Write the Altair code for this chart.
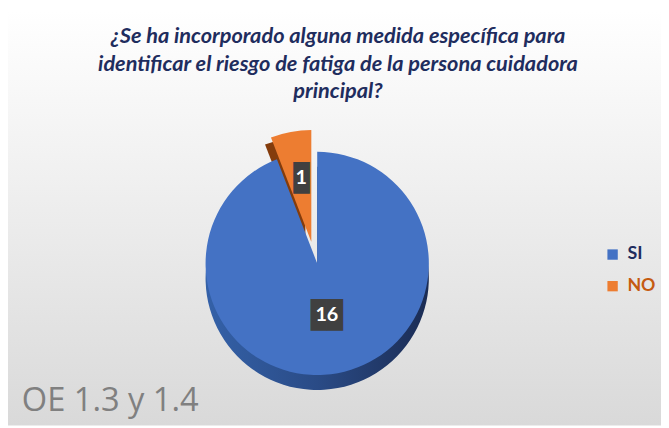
import altair as alt
import pandas as pd

categories = ["SI", "NO"]
values = [16, 1]
title_lines = [
    "¿Se ha incorporado alguna medida específica para",
    "identificar el riesgo de fatiga de la persona cuidadora",
    "principal?",
]
footnote = "OE 1.3 y 1.4"

df = pd.DataFrame({"cat": categories, "value": values})

W, H = 661, 420
CX, CY = 313, 256
R = 113
DEPTH = 15
EXP_DX, EXP_DY = -6, -22

bg = alt.Chart(pd.DataFrame({"a": [0]})).mark_rect(
    color=alt.LinearGradient(
        gradient="linear",
        stops=[alt.GradientStop(color="#ffffff", offset=0),
               alt.GradientStop(color="#f2f2f2", offset=0.35),
               alt.GradientStop(color="#d9d9d9", offset=1)],
        x1=0, x2=0, y1=0, y2=1,
    )
).encode(x=alt.value(0), x2=alt.value(W), y=alt.value(0), y2=alt.value(H))

base = alt.Chart(df).transform_calculate(
    ord="datum.cat == 'SI' ? 0 : 1",
).transform_window(
    cum="sum(value)", frame=[None, 0], sort=[alt.SortField("ord")],
).transform_calculate(
    mid="datum.cum - datum.value / 2",
    lr="datum.cat == 'SI' ? 53 : 88",
    box="length(toString(datum.value)) > 1 ? '██' : '█'",
)

theta = alt.Theta("value:Q", stack=True)
order = alt.Order("ord:Q")

def only(cat):
    return alt.condition(f"datum.cat == '{cat}'", alt.value(1), alt.value(0))

blue_side = alt.LinearGradient(
    gradient="linear",
    stops=[alt.GradientStop(color="#3461a8", offset=0),
           alt.GradientStop(color="#2a4b86", offset=0.5),
           alt.GradientStop(color="#1b2c54", offset=1)],
    x1=0, x2=1, y1=0, y2=0,
)

orange_depth = base.mark_arc(radius=R, fill="#843c0c").encode(
    theta=theta, order=order, opacity=only("NO"),
    x=alt.value(CX + EXP_DX - 6), y=alt.value(CY + EXP_DY + 7),
)
orange_face = base.mark_arc(radius=R, fill="#ED7D31").encode(
    theta=theta, order=order, opacity=only("NO"),
    x=alt.value(CX + EXP_DX), y=alt.value(CY + EXP_DY),
)
blue_depth = base.mark_arc(radius=R, fill=blue_side).encode(
    theta=theta, order=order, opacity=only("SI"),
    x=alt.value(CX), y=alt.value(CY + DEPTH),
)
blue_face = base.mark_arc(radius=R).encode(
    theta=theta, order=order, opacity=only("SI"),
    color=alt.Color(
        "cat:N",
        scale=alt.Scale(domain=categories, range=["#4472C4", "#ED7D31"]),
        legend=alt.Legend(
            title=None, orient="none", legendX=603, legendY=238,
            symbolType="square", symbolSize=110, symbolStrokeWidth=0,
            symbolOpacity=1,
            labelFont="Lato", labelFontSize=18, labelFontWeight="bold",
            labelColor=alt.ExprRef("datum.label == 'SI' ? '#1f2d5e' : '#c55a11'"),
            rowPadding=14, labelOffset=6,
        ),
    ),
    x=alt.value(CX), y=alt.value(CY),
)

label_theta = alt.Theta("mid:Q", stack=None)

boxes = base.mark_text(
    font="DejaVu Sans Mono", fontSize=27, color="#404040", baseline="middle",
    align="center", dy=1,
).encode(
    theta=label_theta,
    radius=alt.Radius("lr:Q", scale=None),
    text="box:N",
    x=alt.value(CX), y=alt.value(CY),
)
labels = base.mark_text(
    font="Lato", fontSize=20, fontWeight="bold", color="#ffffff",
    baseline="middle", align="center",
).encode(
    theta=label_theta,
    radius=alt.Radius("lr:Q", scale=None),
    text="value:Q",
    x=alt.value(CX), y=alt.value(CY),
)

title = alt.Chart(pd.DataFrame({"a": [0]})).mark_text(
    font="Lato", fontSize=22, fontWeight="bold", fontStyle="italic",
    color="#1f2d5e", align="center", baseline="alphabetic", lineHeight=28,
).encode(x=alt.value(334), y=alt.value(33), text=alt.value(title_lines))

foot = alt.Chart(pd.DataFrame({"a": [0]})).mark_text(
    font="Open Sans", fontSize=33, color="#808080", align="left",
    baseline="alphabetic",
).encode(x=alt.value(14), y=alt.value(405), text=alt.value(footnote))

chart = alt.layer(
    bg, orange_depth, orange_face, blue_depth, blue_face, boxes, labels, title, foot
).properties(
    width=W, height=H, autosize="none", padding=0,
).configure_view(stroke=None)

chart.save("out.html", embed_options={"renderer": "svg", "actions": False})
